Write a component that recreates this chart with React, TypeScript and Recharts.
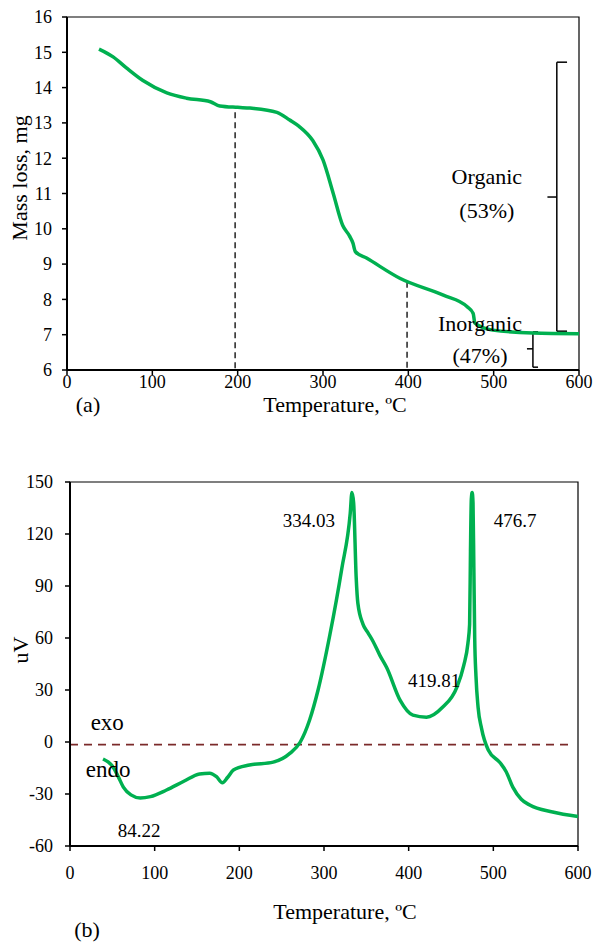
import React from "react";
import {
  LineChart,
  Line,
  XAxis,
  YAxis,
  ReferenceLine,
  ReferenceArea,
  ReferenceDot,
} from "recharts";

// ---- TGA (a) ----
const tgaTemp = [37.5, 54, 70, 89, 117, 140, 168, 179, 200, 214.5, 246, 261, 272, 288, 300, 312, 323, 331, 335, 338, 351, 390, 441, 469, 476, 478, 499, 546, 600];
const tgaMass = [15.09, 14.87, 14.55, 14.2, 13.85, 13.7, 13.6, 13.48, 13.44, 13.42, 13.3, 13.08, 12.9, 12.5, 11.95, 11.0, 10.1, 9.8, 9.6, 9.35, 9.17, 8.6, 8.12, 7.79, 7.6, 7.33, 7.13, 7.05, 7.03];
const tgaTicksY = [6, 7, 8, 9, 10, 11, 12, 13, 14, 15, 16];
const tempTicks = [0, 100, 200, 300, 400, 500, 600];

// dashed markers [T, top mass]
const tgaMarkers = [
  [197, 13.3],
  [398.5, 8.5],
];

// braces: [x, yTop, yBottom, hookX, midX, midY]
const braces = [
  [574, 14.72, 7.1, 586, 563, 10.9],
  [546, 7.08, 6.08, 552, 539, 6.6],
];

const tgaNotes = [
  { T: 492, v: 11.47, text: "Organic" },
  { T: 492, v: 10.53, text: "(53%)" },
  { T: 484, v: 7.33, text: "Inorganic" },
  { T: 484, v: 6.42, text: "(47%)" },
];

// ---- DTA (b) ----
const dtaTemp = [39, 45, 51, 57, 63, 72, 83, 95, 114, 135, 153, 165, 173, 180, 186, 193, 212, 240, 260, 272, 283, 293, 307, 321, 331, 333, 335, 338, 340, 346, 352, 358, 366, 374, 390, 405, 421, 440, 457, 465, 470, 472, 473, 474, 475, 476, 477, 478, 479.5, 482, 486, 494, 508, 515, 523, 533, 543, 570, 600];
const dtaSignal = [-9.8, -11.5, -14.5, -20, -26, -30.5, -32.3, -31.5, -27.7, -22.5, -18.5, -18, -20, -23.5, -20.5, -16.2, -13.3, -11.6, -6.4, 0, 12.7, 30, 62, 100, 132, 144, 138, 95, 80, 68, 63, 58, 50, 43, 24, 15.5, 14.3, 20, 31.7, 44, 57, 68, 110, 140, 144, 138, 100, 60, 38, 20, 8, -4.6, -12, -17, -26, -33, -36.4, -40.4, -43];
const dtaTicksY = [-60, -30, 0, 30, 60, 90, 120, 150];
const dtaBaseline = -1.5;

const dtaNotes = [
  { T: 282, v: 128, text: "334.03", size: 19 },
  { T: 525.6, v: 128, text: "476.7", size: 19 },
  { T: 430, v: 35.7, text: "419.81", size: 19 },
  { T: 81.5, v: -50.8, text: "84.22", size: 19 },
  { T: 44, v: 11.5, text: "exo", size: 23 },
  { T: 45, v: -16, text: "endo", size: 23 },
];

const FONT = "Liberation Serif, DejaVu Serif, Times New Roman, Times, serif";
const GREEN = "#00b050";

const tgaRows = tgaTemp.map((T, i) => ({ T, m: tgaMass[i] }));
const dtaRows = dtaTemp.map((T, i) => ({ T, s: dtaSignal[i] }));

const noteLabel = (text: string, size: number) => (props: any) => {
  const { viewBox } = props;
  const cx = viewBox.x + (viewBox.width || 0) / 2;
  const cy = viewBox.y + (viewBox.height || 0) / 2;
  return (
    <text x={cx} y={cy} textAnchor="middle" dominantBaseline="central" style={{ fontFamily: FONT }} fontSize={size} fill="#000">
      {text}
    </text>
  );
};

const tickStyle = { fill: "#000", fontSize: 18, fontFamily: FONT };

function Caption({ x, y, text, size = 22, rotate = false }: { x: number; y: number; text: string; size?: number; rotate?: boolean }) {
  return (
    <div
      style={{
        position: "absolute",
        left: x,
        top: y,
        transform: `translate(-50%, -50%)${rotate ? " rotate(-90deg)" : ""}`,
        fontFamily: FONT,
        fontSize: size,
        whiteSpace: "nowrap",
        color: "#000",
        lineHeight: 1,
      }}
    >
      {text}
    </div>
  );
}

export default function App() {
  return (
    <div style={{ position: "absolute", left: 0, top: 0, width: 594, height: 943, background: "#fff", overflow: "hidden", fontFamily: FONT }}>
      <div style={{ position: "absolute", left: 0, top: 0 }}>
        <LineChart width={594} height={420} data={tgaRows} margin={{ top: 17, right: 15, left: 0, bottom: 0 }} style={{ fontFamily: FONT }}>
          <XAxis
            dataKey="T"
            type="number"
            domain={[0, 600]}
            ticks={tempTicks}
            tick={tickStyle}
            tickSize={5}
            tickMargin={0}
            height={50}
            axisLine={{ stroke: "#000", strokeWidth: 2 }}
            tickLine={{ stroke: "#000", strokeWidth: 1.5 }}
          />
          <YAxis
            type="number"
            domain={[6, 16]}
            ticks={tgaTicksY}
            tick={tickStyle}
            tickSize={5}
            tickMargin={10}
            width={67}
            axisLine={{ stroke: "#000", strokeWidth: 2 }}
            tickLine={{ stroke: "#000", strokeWidth: 1.5 }}
          />
          <ReferenceArea x1={0} x2={600} y1={6} y2={16} fill="none" stroke="#000" strokeWidth={1.2} />
          {tgaMarkers.map(([t, top], i) => (
            <ReferenceLine
              key={"mk" + i}
              segment={[{ x: t, y: top }, { x: t, y: 6 }]}
              stroke="#000"
              strokeWidth={1.3}
              strokeDasharray="6 4"
            />
          ))}
          {braces.map(([x, y1, y2, hx, mx, my], i) => (
            <React.Fragment key={"br" + i}>
              <ReferenceLine segment={[{ x, y: y1 }, { x, y: y2 }]} stroke="#000" strokeWidth={1.5} />
              <ReferenceLine segment={[{ x, y: y1 }, { x: hx, y: y1 }]} stroke="#000" strokeWidth={1.5} />
              <ReferenceLine segment={[{ x, y: y2 }, { x: hx, y: y2 }]} stroke="#000" strokeWidth={1.5} />
              <ReferenceLine segment={[{ x: mx, y: my }, { x, y: my }]} stroke="#000" strokeWidth={1.5} />
            </React.Fragment>
          ))}
          <Line type="monotone" dataKey="m" stroke={GREEN} strokeWidth={3.5} dot={false} isAnimationActive={false} />
          {tgaNotes.map((n, i) => (
            <ReferenceDot key={"tn" + i} x={n.T} y={n.v} r={0} fill="none" stroke="none" label={noteLabel(n.text, 22)} />
          ))}
        </LineChart>
      </div>
      <Caption x={20} y={178} text="Mass loss, mg" rotate />
      <Caption x={335} y={405} text="Temperature, ºC" />
      <Caption x={88} y={405} text="(a)" />

      <div style={{ position: "absolute", left: 0, top: 460 }}>
        <LineChart width={594} height={436} data={dtaRows} margin={{ top: 22, right: 16, left: 0, bottom: 0 }} style={{ fontFamily: FONT }}>
          <XAxis
            dataKey="T"
            type="number"
            domain={[0, 600]}
            ticks={tempTicks}
            tick={tickStyle}
            tickSize={5}
            tickMargin={15}
            height={50}
            axisLine={{ stroke: "#000", strokeWidth: 2 }}
            tickLine={{ stroke: "#000", strokeWidth: 1.5 }}
          />
          <YAxis
            type="number"
            domain={[-60, 150]}
            ticks={dtaTicksY}
            tick={tickStyle}
            tickSize={5}
            tickMargin={12}
            width={70}
            axisLine={{ stroke: "#000", strokeWidth: 2 }}
            tickLine={{ stroke: "#000", strokeWidth: 1.5 }}
          />
          <ReferenceArea x1={0} x2={600} y1={-60} y2={150} fill="none" stroke="#000" strokeWidth={1.2} />
          <ReferenceLine
            segment={[{ x: 0, y: dtaBaseline }, { x: 595, y: dtaBaseline }]}
            stroke="#7b2a2a"
            strokeWidth={1.6}
            strokeDasharray="8 6"
          />
          <Line type="monotone" dataKey="s" stroke={GREEN} strokeWidth={3.5} dot={false} isAnimationActive={false} />
          {dtaNotes.map((n, i) => (
            <ReferenceDot key={"dn" + i} x={n.T} y={n.v} r={0} fill="none" stroke="none" label={noteLabel(n.text, n.size)} />
          ))}
        </LineChart>
      </div>
      <Caption x={21} y={650} text="uV" rotate />
      <Caption x={345} y={912} text="Temperature, ºC" />
      <Caption x={87} y={930} text="(b)" />
    </div>
  );
}
